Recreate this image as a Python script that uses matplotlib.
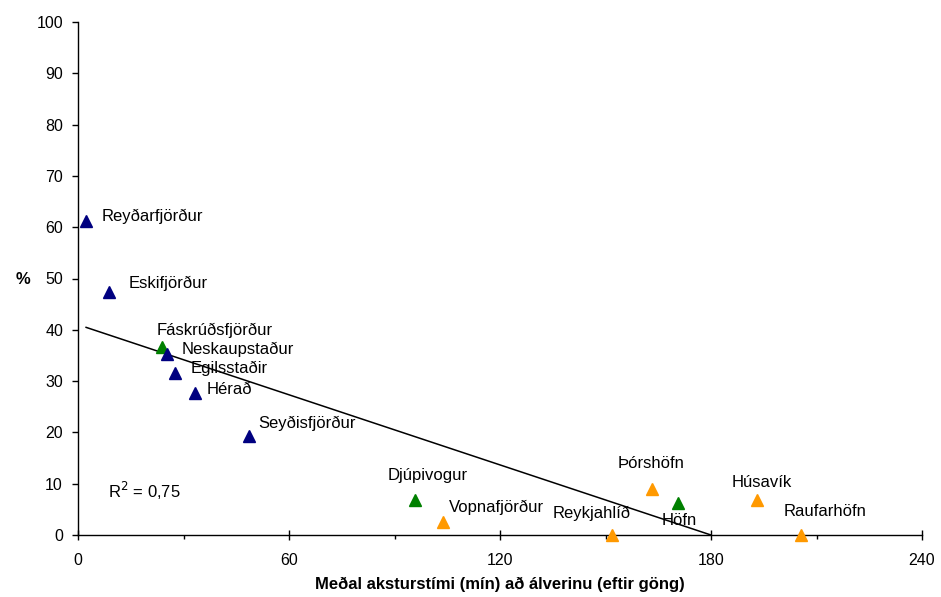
import numpy as np
import matplotlib
matplotlib.use("Agg")
import matplotlib.pyplot as plt
from matplotlib.ticker import MultipleLocator

plt.rcParams['font.family'] = ['Liberation Sans', 'DejaVu Sans']

places = ["Reyðarfjörður", "Eskifjörður", "Fáskrúðsfjörður", "Neskaupstaður",
          "Egilsstaðir", "Hérað", "Seyðisfjörður", "Djúpivogur", "Vopnafjörður",
          "Reykjahlíð", "Þórshöfn", "Höfn", "Húsavík", "Raufarhöfn"]
minutes = [2.3, 8.8, 23.9, 25.3, 27.6, 33.3, 48.6, 95.8, 103.8, 151.8, 163.2, 170.6, 193.1, 205.6]
percent = [61.2, 47.4, 36.6, 35.3, 31.6, 27.7, 19.3, 6.8, 2.5, 0.0, 9.0, 6.2, 6.8, 0.0]
group = ["n", "n", "g", "n", "n", "n", "n", "g", "o", "o", "o", "g", "o", "o"]
trend_intercept = 41.0
trend_slope = -0.2278
r2_text = "R$^2$ = 0,75"
x_label = "Meðal aksturstími (mín) að álverinu (eftir göng)"
y_label = "%"

colors = {"n": "#000080", "g": "#008000", "o": "#FF9900"}
offsets = [(16, 5), (20, 8), (-5, 17), (15, 5), (16, 5), (12, 3), (9, 13),
           (-27, 25), (6, 15), (-59, 22), (-34, 25), (-16, -17), (-25, 18), (-17, 23)]

fig = plt.figure(figsize=(9.41, 5.97), dpi=100)
ax = fig.add_axes([78/941, 1-535/597, 844/941, 513/597])

# trend line from min x until it reaches 0
x0 = min(minutes)
x1 = -trend_intercept / trend_slope
ax.plot([x0, x1], [trend_intercept + trend_slope*x0, 0], color='black', lw=1.1, zorder=2, clip_on=False)

for xv, yv, g, name, off in zip(minutes, percent, group, places, offsets):
    ax.plot(xv, yv, marker='^', ms=8, color=colors[g], mec=colors[g], ls='none', zorder=3, clip_on=False)
    ax.annotate(name, (xv, yv), xytext=off, textcoords='offset pixels',
                ha='left', va='center', fontsize=12, color='black')

ax.text((108-78)/844, (535-491)/513, r2_text, transform=ax.transAxes,
        fontsize=12, ha='left', va='center')

ax.set_xlim(0, 240)
ax.set_ylim(0, 100)
ax.xaxis.set_major_locator(MultipleLocator(60))
ax.xaxis.set_minor_locator(MultipleLocator(30))
ax.yaxis.set_major_locator(MultipleLocator(10))
ax.tick_params(axis='x', which='major', direction='inout', length=7, width=1, labelsize=11.5, pad=9.5)
ax.tick_params(axis='x', which='minor', direction='out', length=3, width=1)
ax.tick_params(axis='y', which='major', direction='out', length=4.3, width=1, labelsize=11.5, pad=6.5)
for s in ['top', 'right']:
    ax.spines[s].set_visible(False)
for s in ['left', 'bottom']:
    ax.spines[s].set_linewidth(1)

ax.text(0.5, (535-584)/513, x_label, transform=ax.transAxes, ha='center', va='center',
        fontsize=12, fontweight='bold')
ax.text((23.5-78)/844, (535-279)/513, y_label, transform=ax.transAxes, ha='center', va='center',
        fontsize=12, fontweight='bold')

fig.savefig("out.png", dpi=100)
